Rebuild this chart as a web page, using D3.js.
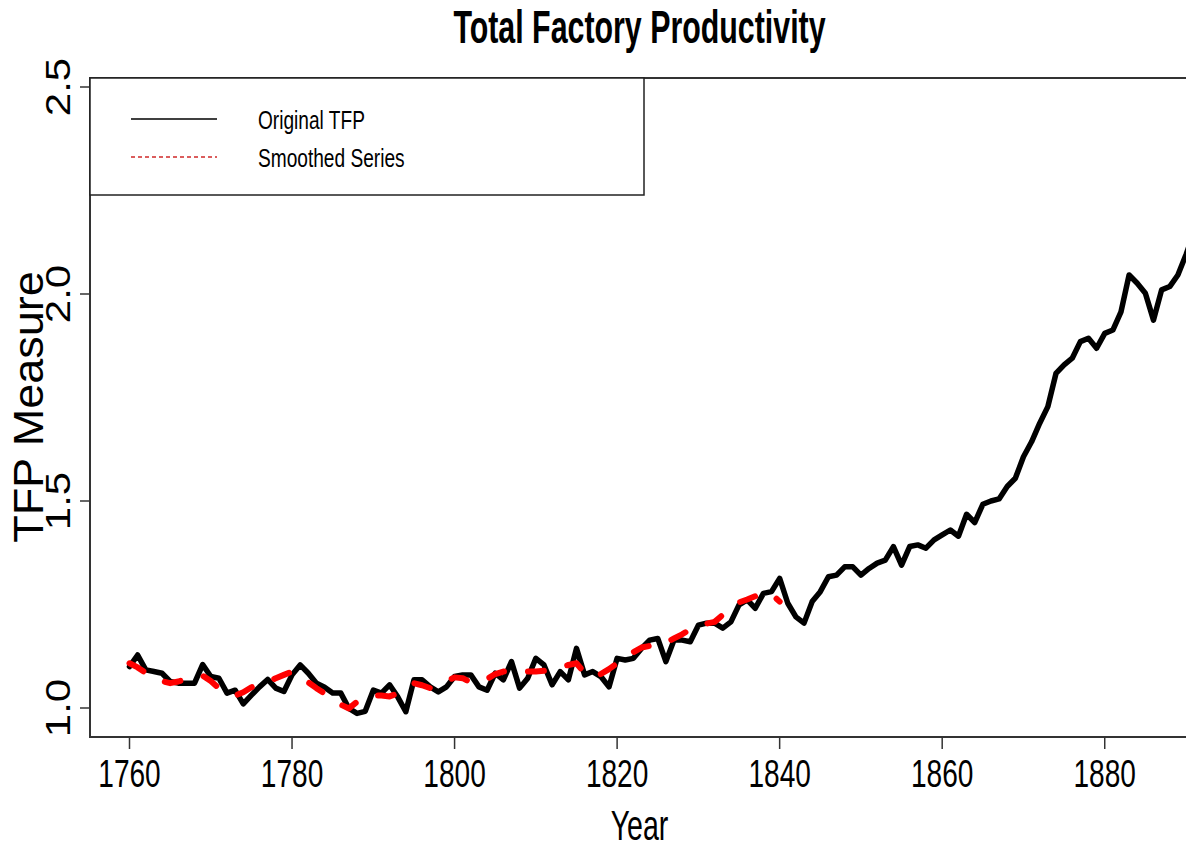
<!DOCTYPE html>
<meta charset="utf-8">
<head>
<style>
  body { margin: 0; background: #fff; }
  svg { display: block; font-family: 'Liberation Sans', Arial, sans-serif; }
</style>
</head>
<body>
<svg id="chart" width="1186" height="849"></svg>

<script src="https://d3js.org/d3.v7.min.js"></script>
<script>

// ---- data ----
var firstYear = 1760;
// original TFP, one value per year from 1760
var tfp = [
  1.100, 1.128, 1.092, 1.088, 1.084, 1.064, 1.060, 1.060, 1.060, 1.105,  // 1760s
  1.076, 1.072, 1.036, 1.043, 1.010, 1.031, 1.051, 1.069, 1.048, 1.040,  // 1770s
  1.080, 1.104, 1.084, 1.060, 1.050, 1.036, 1.036, 0.999, 0.987, 0.992,  // 1780s
  1.043, 1.036, 1.056, 1.027, 0.991, 1.068, 1.068, 1.051, 1.039, 1.051,  // 1790s
  1.076, 1.080, 1.080, 1.051, 1.043, 1.084, 1.068, 1.112, 1.048, 1.072,  // 1800s
  1.120, 1.104, 1.056, 1.088, 1.068, 1.144, 1.080, 1.088, 1.076, 1.051,  // 1810s
  1.120, 1.116, 1.120, 1.144, 1.164, 1.168, 1.112, 1.164, 1.164, 1.160,  // 1820s
  1.200, 1.205, 1.205, 1.193, 1.208, 1.249, 1.261, 1.241, 1.277, 1.281,  // 1830s
  1.313, 1.253, 1.220, 1.205, 1.257, 1.281, 1.317, 1.321, 1.341, 1.341,  // 1840s
  1.321, 1.337, 1.350, 1.357, 1.390, 1.345, 1.390, 1.394, 1.386, 1.406,  // 1850s
  1.418, 1.430, 1.415, 1.468, 1.448, 1.492, 1.500, 1.505, 1.535, 1.555,  // 1860s
  1.607, 1.643, 1.688, 1.728, 1.808, 1.829, 1.845, 1.885, 1.893, 1.869,  // 1870s
  1.905, 1.913, 1.957, 2.046, 2.026, 2.002, 1.937, 2.010, 2.018, 2.046,  // 1880s
  2.095, 2.150
];
// smoothed series, 1760-1840
var smooth = [
  1.108, 1.098, 1.085, 1.075, 1.065, 1.060, 1.064, 1.070, 1.075, 1.078,
  1.065, 1.048, 1.038, 1.030, 1.038, 1.050, 1.056, 1.062, 1.072, 1.080,
  1.088, 1.078, 1.062, 1.048, 1.035, 1.022, 1.008, 0.999, 1.015, 1.025,
  1.030, 1.030, 1.028, 1.035, 1.048, 1.060, 1.055, 1.048, 1.055, 1.065,
  1.074, 1.072, 1.062, 1.062, 1.070, 1.082, 1.088, 1.088, 1.088, 1.088,
  1.088, 1.090, 1.092, 1.098, 1.104, 1.108, 1.085, 1.074, 1.082, 1.094,
  1.108, 1.122, 1.135, 1.146, 1.150, 1.150, 1.158, 1.168, 1.178, 1.190,
  1.200, 1.204, 1.208, 1.225, 1.245, 1.255, 1.262, 1.270, 1.278, 1.275,
  1.257
];
var xTicks = [1760, 1780, 1800, 1820, 1840, 1860, 1880];
var yTicks = [1.0, 1.5, 2.0, 2.5];
var yTickLabels = ["1.0", "1.5", "2.0", "2.5"];
var seriesNames = ["Original TFP", "Smoothed Series"];

// ---- layout ----
var box = {left: 90, top: 78, right: 1200, bottom: 737};

var x = d3.scaleLinear().domain([1760, 1890]).range([129.5, 1186]);
var y = d3.scaleLinear().domain([1.0, 2.5]).range([708, 87]);

var svg = d3.select("#chart");

svg.append("defs").append("clipPath").attr("id", "plotclip")
  .append("rect")
    .attr("x", box.left).attr("y", box.top)
    .attr("width", box.right - box.left).attr("height", box.bottom - box.top);

// lines
var line = d3.line()
    .x(function(d) { return x(d.year); })
    .y(function(d) { return y(d.value); });

var tfpData = tfp.map(function(v, i) { return {year: firstYear + i, value: v}; });
var smoothData = smooth.map(function(v, i) { return {year: firstYear + i, value: v}; });

var plot = svg.append("g").attr("clip-path", "url(#plotclip)");

plot.append("path")
    .datum(tfpData)
    .attr("d", line)
    .style("fill", "none")
    .style("stroke", "#000")
    .style("stroke-width", 5.5)
    .style("stroke-linejoin", "round")
    .style("stroke-linecap", "round");

plot.append("path")
    .datum(smoothData)
    .attr("d", line)
    .style("fill", "none")
    .style("stroke", "#ff0000")
    .style("stroke-width", 6)
    .style("stroke-dasharray", "16,24")
    .style("stroke-linecap", "round")
    .style("stroke-linejoin", "round");

// plot frame
svg.append("rect")
    .attr("x", box.left).attr("y", box.top)
    .attr("width", box.right - box.left).attr("height", box.bottom - box.top)
    .style("fill", "none")
    .style("stroke", "#333")
    .style("stroke-width", 2);

// x axis
var xAxis = svg.append("g");
xAxis.selectAll("line")
    .data(xTicks)
  .enter().append("line")
    .attr("x1", function(d) { return x(d); })
    .attr("x2", function(d) { return x(d); })
    .attr("y1", box.bottom)
    .attr("y2", box.bottom + 12)
    .style("stroke", "#333")
    .style("stroke-width", 1.5);
xAxis.selectAll("text")
    .data(xTicks)
  .enter().append("text")
    .attr("transform", function(d) { return "translate(" + x(d) + ",787) scale(0.72,1)"; })
    .attr("text-anchor", "middle")
    .style("font-size", "39px")
    .text(function(d) { return d; });

// y axis
var yAxis = svg.append("g");
yAxis.selectAll("line")
    .data(yTicks)
  .enter().append("line")
    .attr("x1", box.left - 10)
    .attr("x2", box.left)
    .attr("y1", function(d) { return y(d); })
    .attr("y2", function(d) { return y(d); })
    .style("stroke", "#333")
    .style("stroke-width", 1.5);
yAxis.selectAll("text")
    .data(yTicks)
  .enter().append("text")
    .attr("transform", function(d) { return "translate(70," + y(d) + ") scale(0.83,1) rotate(-90)"; })
    .attr("text-anchor", "middle")
    .style("font-size", "42px")
    .text(function(d, i) { return yTickLabels[i]; });

// titles
svg.append("text")
    .attr("transform", "translate(639.5,43) scale(0.66,1)")
    .attr("text-anchor", "middle")
    .style("font-size", "46px")
    .style("font-weight", "bold")
    .text("Total Factory Productivity");

svg.append("text")
    .attr("transform", "translate(639.5,840) scale(0.68,1)")
    .attr("text-anchor", "middle")
    .style("font-size", "42px")
    .text("Year");

svg.append("text")
    .attr("transform", "translate(43,407) scale(0.95,1) rotate(-90)")
    .attr("text-anchor", "middle")
    .style("font-size", "45px")
    .text("TFP Measure");

// legend
var legend = svg.append("g");
legend.append("rect")
    .attr("x", box.left).attr("y", box.top)
    .attr("width", 554).attr("height", 117)
    .style("fill", "#fff")
    .style("stroke", "#222")
    .style("stroke-width", 1.5);

var legendRows = [
  {name: seriesNames[0], color: "#000", dash: null, y: 119},
  {name: seriesNames[1], color: "#d02828", dash: "4,3", y: 157}
];
legendRows.forEach(function(r) {
  legend.append("line")
      .attr("x1", 131).attr("x2", 217)
      .attr("y1", r.y).attr("y2", r.y)
      .style("stroke", r.color)
      .style("stroke-width", 1.5)
      .style("stroke-dasharray", r.dash);
  legend.append("text")
      .attr("transform", "translate(258," + (r.y + 10) + ") scale(0.75,1)")
      .style("font-size", "25.5px")
      .text(r.name);
});

</script>
</body>
